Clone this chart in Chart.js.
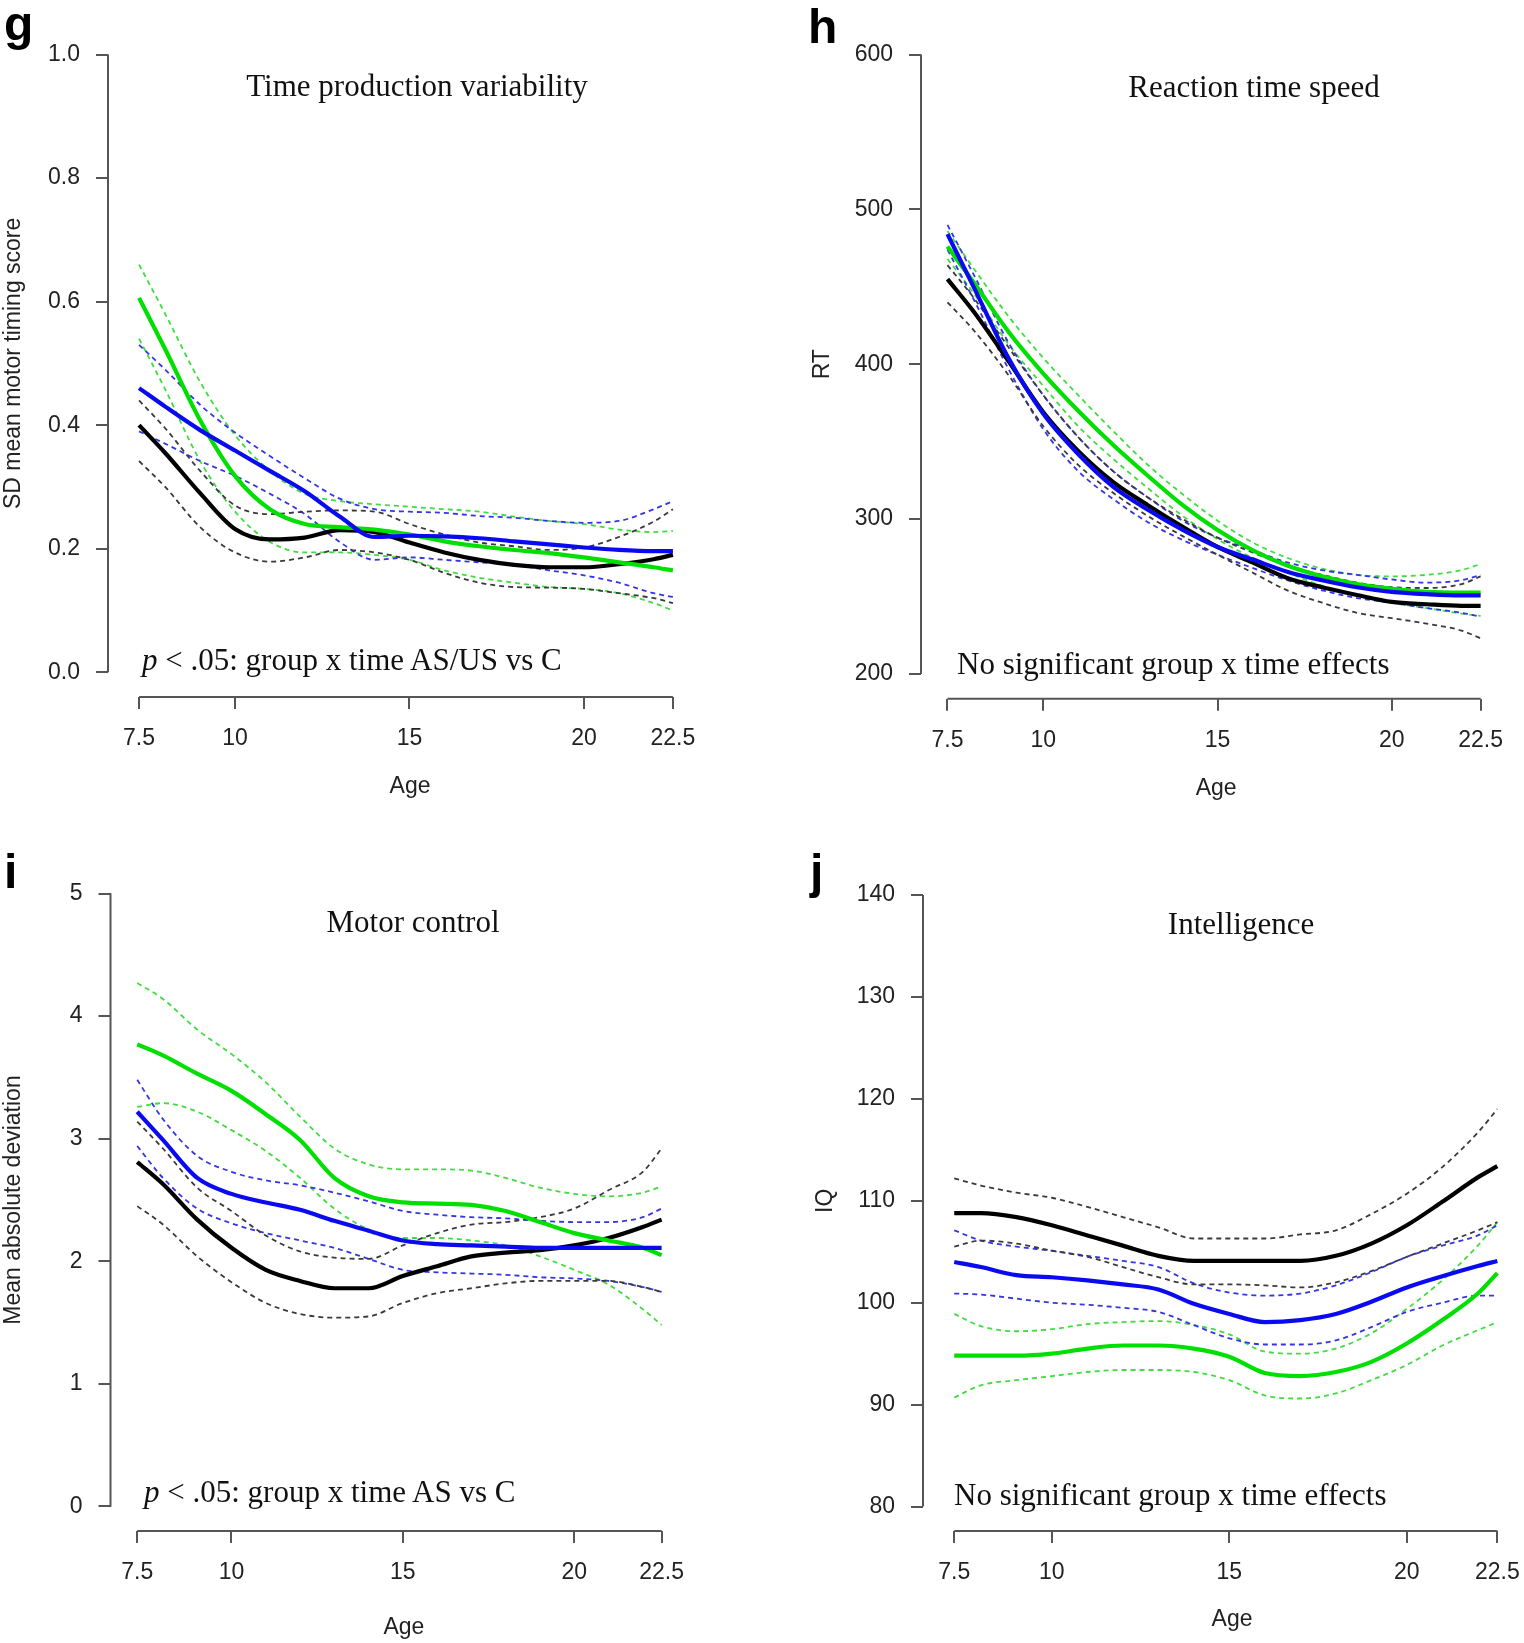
<!DOCTYPE html>
<html>
<head>
<meta charset="utf-8">
<script src="https://cdn.jsdelivr.net/npm/chart.js@4.4.1/dist/chart.umd.min.js"></script>
<style>
  html, body { margin: 0; padding: 0; background: #fff; }
  body { width: 1524px; height: 1643px; position: relative; overflow: hidden; }
  canvas { position: absolute; }
  .lbl { position: absolute; white-space: nowrap; line-height: 1; color: #111; }
  .letter { font: bold 48px "Liberation Sans", Arial, sans-serif; color: #000; }
  .serif { font: 31px "Liberation Serif", "Times New Roman", serif; }
  .mid { transform: translateX(-50%); }
</style>
</head>
<body>
<canvas id="chartG"></canvas>
<canvas id="chartH"></canvas>
<canvas id="chartI"></canvas>
<canvas id="chartJ"></canvas>

<div class="lbl letter" style="left:4px;top:-4px">g</div>
<div class="lbl letter" style="left:808px;top:-1px">h</div>
<div class="lbl letter" style="left:4px;top:844px">i</div>
<div class="lbl letter" style="left:810px;top:844px">j</div>

<div class="lbl serif mid" style="left:417px;top:68px">Time production variability</div>
<div class="lbl serif mid" style="left:1254px;top:69px">Reaction time speed</div>
<div class="lbl serif mid" style="left:413px;top:904px">Motor control</div>
<div class="lbl serif mid" style="left:1241px;top:906px">Intelligence</div>

<div class="lbl serif" style="left:142px;top:642px"><i>p</i> &lt; .05: group x time AS/US vs C</div>
<div class="lbl serif" style="left:957px;top:646px">No significant group x time effects</div>
<div class="lbl serif" style="left:144px;top:1474px"><i>p</i> &lt; .05: group x time AS vs C</div>
<div class="lbl serif" style="left:954px;top:1477px">No significant group x time effects</div>

<script>
const ages = [7.25, 8, 9, 10, 11, 12, 13, 14, 15, 16, 17, 18, 19, 20, 21, 22, 22.55];
const ageTicks = [7.25, 10, 15, 20, 22.55];
const ageTickLabels = ['7.5', '10', '15', '20', '22.5'];

// g: time production variability (C = black, US = blue, AS = green)
const timingC = [0.40, 0.355, 0.29, 0.232, 0.215, 0.218, 0.23, 0.227, 0.21, 0.194, 0.182, 0.174, 0.17, 0.17, 0.175, 0.183, 0.19];
const timingCUp = [0.44, 0.395, 0.326, 0.27, 0.256, 0.26, 0.262, 0.26, 0.24, 0.223, 0.21, 0.204, 0.198, 0.202, 0.219, 0.244, 0.264];
const timingCLow = [0.342, 0.30, 0.235, 0.194, 0.179, 0.186, 0.198, 0.194, 0.182, 0.161, 0.145, 0.138, 0.137, 0.135, 0.128, 0.12, 0.112];
const timingUS = [0.46, 0.43, 0.392, 0.359, 0.326, 0.293, 0.252, 0.219, 0.221, 0.22, 0.217, 0.212, 0.207, 0.202, 0.198, 0.196, 0.196];
const timingUSUp = [0.53, 0.49, 0.433, 0.388, 0.35, 0.314, 0.281, 0.264, 0.26, 0.258, 0.253, 0.25, 0.245, 0.242, 0.245, 0.264, 0.277];
const timingUSLow = [0.39, 0.37, 0.342, 0.318, 0.289, 0.256, 0.211, 0.182, 0.186, 0.182, 0.178, 0.174, 0.165, 0.157, 0.145, 0.128, 0.122];
const timingAS = [0.606, 0.523, 0.408, 0.318, 0.264, 0.24, 0.235, 0.231, 0.223, 0.212, 0.204, 0.198, 0.193, 0.186, 0.178, 0.17, 0.165];
const timingASUp = [0.66, 0.58, 0.47, 0.384, 0.326, 0.289, 0.277, 0.272, 0.268, 0.264, 0.26, 0.252, 0.245, 0.24, 0.231, 0.227, 0.229];
const timingASLow = [0.54, 0.458, 0.342, 0.26, 0.211, 0.194, 0.194, 0.19, 0.182, 0.165, 0.153, 0.145, 0.138, 0.135, 0.128, 0.112, 0.1];
const timingTicks = [0, 0.2, 0.4, 0.6, 0.8, 1.0];
const timingTickLabels = ['0.0', '0.2', '0.4', '0.6', '0.8', '1.0'];

// h: reaction time speed
const rtC = [455, 434, 402, 369, 344, 324, 309, 295, 282, 272, 262, 256, 251, 246.5, 245, 244, 244];
const rtCUp = [464, 443, 411, 380, 353, 331, 314, 300, 288, 278.5, 270, 264, 259, 256, 255.5, 258, 263];
const rtCLow = [440, 422, 393, 360, 335, 317, 302, 289, 277, 265.5, 254, 246, 239.5, 236, 232.5, 228, 223];
const rtUS = [484, 450, 404, 368, 342, 321, 306, 293, 282, 274, 266, 260.5, 256, 253, 251.5, 250.7, 250.7];
const rtUSUp = [490, 458, 414, 380, 353, 331, 314, 299, 288, 280, 272, 267, 264, 261, 259, 260.5, 264];
const rtUSLow = [474, 442, 397, 358, 331, 313, 298, 286.5, 277, 268.5, 260.5, 254, 249, 246, 242.5, 239.5, 237];
const rtAS = [476, 453, 421, 394, 370, 348, 328, 309, 293, 280, 270, 263, 258, 255, 253, 252.5, 252.5];
const rtASUp = [486, 462, 431, 404, 380, 357, 335, 316, 299, 285, 275, 268, 264, 263, 264, 267, 271];
const rtASLow = [468, 446, 413, 386, 360, 339, 320, 302, 287, 275, 265.5, 257, 251, 246, 242.5, 239, 237.5];
const rtTicks = [200, 300, 400, 500, 600];
const rtTickLabels = ['200', '300', '400', '500', '600'];

// i: motor control
const motorC = [2.81, 2.63, 2.34, 2.11, 1.93, 1.84, 1.78, 1.78, 1.88, 1.96, 2.04, 2.07, 2.09, 2.13, 2.19, 2.28, 2.34];
const motorCUp = [3.14, 2.92, 2.60, 2.41, 2.21, 2.08, 2.03, 2.02, 2.13, 2.23, 2.30, 2.32, 2.36, 2.43, 2.58, 2.73, 2.92];
const motorCLow = [2.45, 2.30, 2.04, 1.83, 1.66, 1.57, 1.54, 1.55, 1.66, 1.74, 1.78, 1.82, 1.84, 1.84, 1.84, 1.79, 1.75];
const motorUS = [3.22, 2.99, 2.68, 2.55, 2.48, 2.42, 2.33, 2.25, 2.17, 2.14, 2.13, 2.12, 2.11, 2.11, 2.11, 2.11, 2.11];
const motorUSUp = [3.48, 3.16, 2.86, 2.73, 2.66, 2.62, 2.56, 2.49, 2.41, 2.38, 2.36, 2.35, 2.33, 2.32, 2.32, 2.36, 2.43];
const motorUSLow = [2.94, 2.68, 2.43, 2.31, 2.23, 2.17, 2.11, 2.02, 1.93, 1.91, 1.90, 1.89, 1.87, 1.86, 1.84, 1.79, 1.75];
const motorAS = [3.77, 3.68, 3.53, 3.39, 3.20, 2.99, 2.68, 2.53, 2.48, 2.47, 2.46, 2.41, 2.32, 2.23, 2.17, 2.11, 2.05];
const motorASUp = [4.27, 4.14, 3.89, 3.69, 3.46, 3.18, 2.92, 2.79, 2.75, 2.75, 2.74, 2.68, 2.60, 2.55, 2.53, 2.56, 2.61];
const motorASLow = [3.26, 3.29, 3.22, 3.07, 2.90, 2.68, 2.43, 2.26, 2.19, 2.19, 2.17, 2.13, 2.04, 1.93, 1.81, 1.61, 1.48];
const motorTicks = [0, 1, 2, 3, 4, 5];
const motorTickLabels = ['0', '1', '2', '3', '4', '5'];

// j: intelligence
const iqC = [108.8, 108.8, 108.4, 107.6, 106.6, 105.6, 104.6, 104.1, 104.1, 104.1, 104.1, 104.6, 105.8, 107.6, 109.9, 112.3, 113.4];
const iqCUp = [112.2, 111.5, 110.8, 110.3, 109.4, 108.4, 107.4, 106.3, 106.3, 106.3, 106.7, 107.1, 108.7, 110.7, 113.3, 116.7, 119.0];
const iqCLow = [105.5, 106.1, 105.8, 105.1, 104.5, 103.5, 102.5, 101.8, 101.8, 101.7, 101.5, 102.0, 103.1, 104.5, 105.8, 107.1, 107.9];
const iqUS = [104.0, 103.5, 102.7, 102.5, 102.2, 101.8, 101.3, 99.9, 98.9, 98.1, 98.3, 98.9, 100.1, 101.5, 102.6, 103.6, 104.1];
const iqUSUp = [107.1, 106.1, 105.5, 105.1, 104.6, 104.1, 103.5, 101.9, 101.0, 100.7, 100.9, 101.7, 103.0, 104.5, 105.6, 106.6, 107.6];
const iqUSLow = [100.9, 100.8, 100.4, 100.0, 99.8, 99.5, 99.1, 97.8, 96.5, 95.9, 95.9, 96.3, 97.6, 99.1, 100.0, 100.7, 100.7];
const iqAS = [94.8, 94.8, 94.8, 95.0, 95.5, 95.8, 95.8, 95.5, 94.7, 93.1, 92.8, 93.2, 94.2, 96.0, 98.3, 100.9, 102.9];
const iqASUp = [98.9, 97.7, 97.2, 97.4, 97.9, 98.1, 98.2, 97.8, 96.9, 95.2, 95.0, 95.5, 97.0, 99.4, 102.2, 105.6, 107.9];
const iqASLow = [90.7, 91.9, 92.4, 92.8, 93.2, 93.4, 93.4, 93.2, 92.4, 90.9, 90.6, 91.1, 92.4, 93.9, 95.8, 97.3, 98.1];
const iqTicks = [80, 90, 100, 110, 120, 130, 140];
const iqTickLabels = ['80', '90', '100', '110', '120', '130', '140'];

// styling
const groupColors = { C: '#000000', US: '#0a0af0', AS: '#00e000' };
const dashColors = { C: '#3a3a3a', US: '#3535e8', AS: '#40dd40' };
const axisColor = '#555555';
const labelColor = '#222222';
const sansFont = '"Liberation Sans", Arial, sans-serif';

// draws the R-style axis line only between the first and last tick
const axisLines = {
  id: 'axisLines',
  afterDraw(chart) {
    const { ctx, chartArea, scales: { x, y } } = chart;
    ctx.save();
    ctx.strokeStyle = axisColor;
    ctx.lineWidth = 2;
    ctx.beginPath();
    ctx.moveTo(x.getPixelForValue(x.ticks[0].value), chartArea.bottom);
    ctx.lineTo(x.getPixelForValue(x.ticks[x.ticks.length - 1].value), chartArea.bottom);
    ctx.moveTo(chartArea.left, y.getPixelForValue(y.ticks[0].value));
    ctx.lineTo(chartArea.left, y.getPixelForValue(y.ticks[y.ticks.length - 1].value));
    ctx.stroke();
    ctx.restore();
  }
};

function series(values, group, dashed) {
  return {
    data: ages.map((a, i) => ({ x: a, y: values[i] })),
    borderColor: dashed ? dashColors[group] : groupColors[group],
    borderWidth: dashed ? 1.8 : 4.2,
    borderDash: dashed ? [5, 4] : [],
    cubicInterpolationMode: 'monotone',
    pointRadius: 0,
    fill: false,
    order: dashed ? 10 : { US: 1, AS: 2, C: 3 }[group]
  };
}

function makePanel(id, box, yInfo, sets) {
  const canvas = document.getElementById(id);
  canvas.width = box.width;
  canvas.height = box.height;
  canvas.style.left = box.left + 'px';
  canvas.style.top = box.top + 'px';

  const tickFont = { family: sansFont, size: 23 };
  new Chart(canvas, {
    type: 'line',
    data: { datasets: sets },
    plugins: [axisLines],
    options: {
      responsive: false,
      animation: false,
      layout: { padding: { top: box.padTop, right: 0, bottom: 0, left: 0 } },
      plugins: { legend: { display: false }, tooltip: { enabled: false } },
      scales: {
        x: {
          type: 'linear',
          min: box.xMin,
          max: box.xMax,
          afterBuildTicks: (s) => { s.ticks = ageTicks.map(v => ({ value: v })); },
          afterFit: (s) => { s.height = box.xAxisHeight; },
          border: { display: false },
          grid: { drawOnChartArea: false, drawTicks: true, tickLength: 12, color: axisColor, lineWidth: 2 },
          ticks: {
            autoSkip: false, maxRotation: 0, padding: 16, color: labelColor, font: tickFont,
            callback: (v, i) => ageTickLabels[i]
          },
          title: { display: true, text: 'Age', color: labelColor, font: tickFont, padding: 0 }
        },
        y: {
          type: 'linear',
          min: yInfo.min,
          max: yInfo.max,
          afterBuildTicks: (s) => { s.ticks = yInfo.ticks.map(v => ({ value: v })); },
          afterFit: (s) => { s.width = box.yAxisWidth; },
          border: { display: false },
          grid: { drawOnChartArea: false, drawTicks: true, tickLength: 12, color: axisColor, lineWidth: 2 },
          ticks: {
            autoSkip: false, padding: 16, color: labelColor, font: tickFont,
            callback: (v, i) => yInfo.labels[i]
          },
          title: { display: true, text: yInfo.title, color: labelColor, font: tickFont, padding: 0 }
        }
      }
    }
  });
}

function groupSets(c, cUp, cLow, us, usUp, usLow, as, asUp, asLow) {
  return [
    series(cUp, 'C', true), series(cLow, 'C', true),
    series(usUp, 'US', true), series(usLow, 'US', true),
    series(asUp, 'AS', true), series(asLow, 'AS', true),
    series(c, 'C', false), series(as, 'AS', false), series(us, 'US', false)
  ];
}

makePanel('chartG',
  { left: 0, top: 0, width: 712, height: 800, padTop: 26, yAxisWidth: 108, xAxisHeight: 103, xMin: 6.36, xMax: 23.67 },
  { min: -0.04, max: 1.04, ticks: timingTicks, labels: timingTickLabels, title: 'SD mean motor timing score' },
  groupSets(timingC, timingCUp, timingCLow, timingUS, timingUSUp, timingUSLow, timingAS, timingASUp, timingASLow));

makePanel('chartH',
  { left: 809, top: 0, width: 710, height: 802, padTop: 24.5, yAxisWidth: 112, xAxisHeight: 103.3, xMin: 6.49, xMax: 23.43 },
  { min: 184, max: 616, ticks: rtTicks, labels: rtTickLabels, title: 'RT' },
  groupSets(rtC, rtCUp, rtCLow, rtUS, rtUSUp, rtUSLow, rtAS, rtASUp, rtASLow));

makePanel('chartI',
  { left: 0, top: 820, width: 700, height: 821, padTop: 49, yAxisWidth: 110.5, xAxisHeight: 110, xMin: 6.47, xMax: 23.59 },
  { min: -0.2, max: 5.2, ticks: motorTicks, labels: motorTickLabels, title: 'Mean absolute deviation' },
  groupSets(motorC, motorCUp, motorCLow, motorUS, motorUSUp, motorUSLow, motorAS, motorASUp, motorASLow));

makePanel('chartJ',
  { left: 812, top: 820, width: 729, height: 813, padTop: 50.6, yAxisWidth: 111, xAxisHeight: 102, xMin: 6.37, xMax: 23.78 },
  { min: 77.6, max: 142.4, ticks: iqTicks, labels: iqTickLabels, title: 'IQ' },
  groupSets(iqC, iqCUp, iqCLow, iqUS, iqUSUp, iqUSLow, iqAS, iqASUp, iqASLow));
</script>
</body>
</html>
